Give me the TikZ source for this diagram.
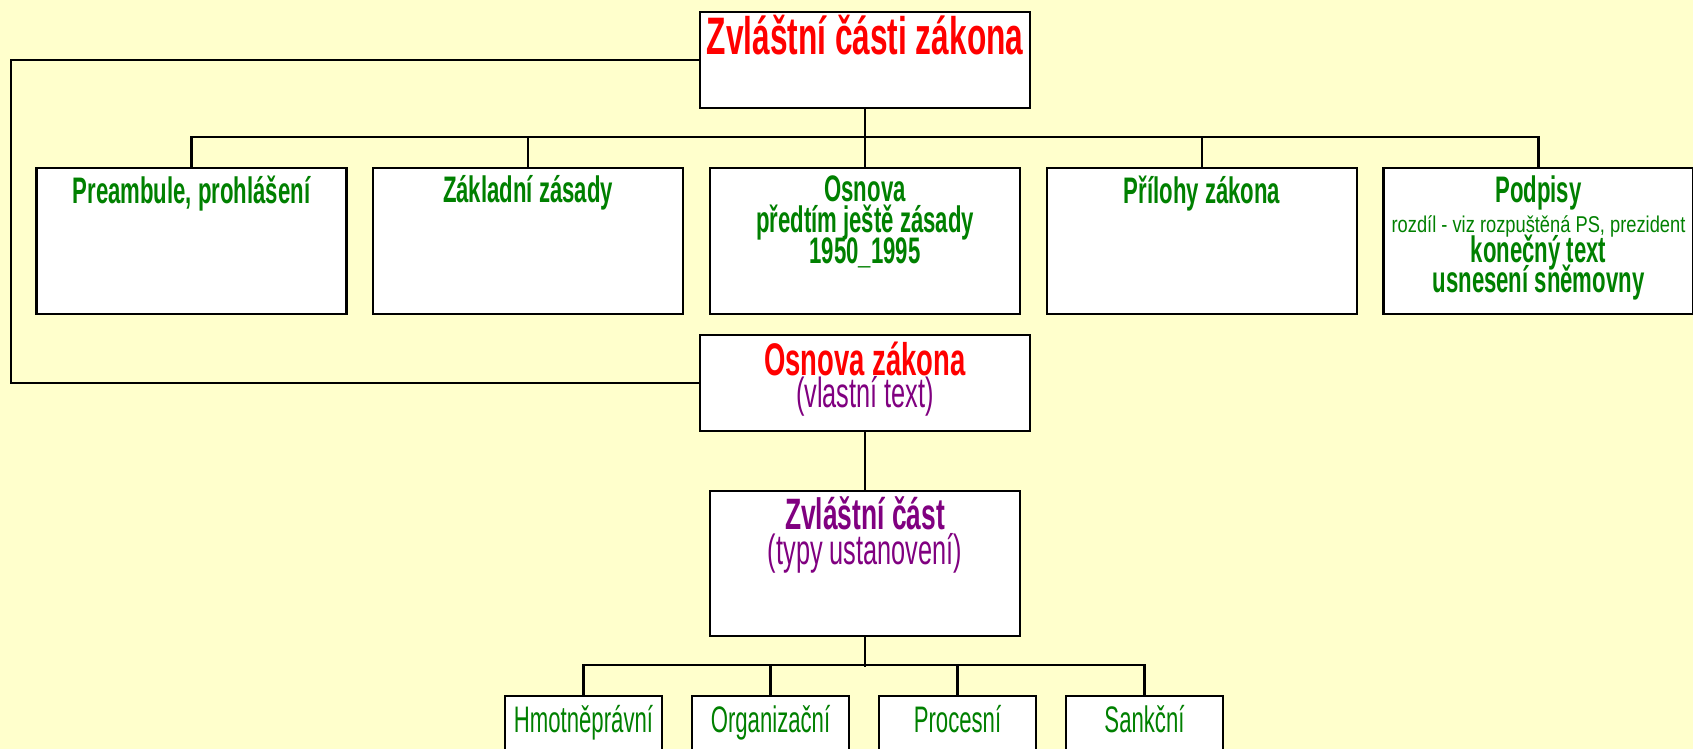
\documentclass[tikz,border=0pt]{standalone}
\usepackage{fontspec}
\setmainfont{Liberation Sans}
\newfontfamily\narrowfont[FakeStretch=0.6]{Liberation Sans}
\newfontfamily\halfnarrowfont[FakeStretch=0.8]{Liberation Sans}
\usepackage[HTML]{xcolor}
\usepackage{tikz}
\usetikzlibrary{positioning}

\definecolor{paper}{HTML}{FFFFCC}
\definecolor{headred}{HTML}{FF0000}
\definecolor{partgreen}{HTML}{008000}
\definecolor{notepurple}{HTML}{800080}

\tikzset{
  part/.style={draw, fill=white, line width=0.65pt, inner sep=0pt, minimum width=3.10cm, minimum height=1.46cm},
  head/.style={part, minimum width=3.30cm, minimum height=0.96cm},
  kind/.style={part, minimum width=1.57cm, minimum height=1.20cm},
  txt/.style={inner sep=0pt, align=center},
  parttxt/.style={txt, text=partgreen, font={\narrowfont\bfseries\fontsize{10.5}{8.8}\selectfont\lineskiplimit-20pt\relax}},
  kindtxt/.style={txt, text=partgreen, font=\narrowfont\fontsize{10.5}{12}\selectfont},
  link/.style={line width=0.6pt}
}

\begin{document}
\begin{tikzpicture}[x=0.01cm, y=-0.01cm]
\useasboundingbox (0,0) rectangle (1693,749);
\clip (0,0) rectangle (1693,749);
\fill[paper] (0,0) rectangle (1693,749);

% ramecky
\node[head] (zcz) at (865,60) {};
\node[part] (pre) at (191.5,241) {};
\node[part] (zas) at (528,241) {};
\node[part] (osv) at (865,241) {};
\node[part] (pri) at (1202,241) {};
\node[part] (pod) at (1538.5,241) {};
\node[head] (osz) at (865,383) {};
\node[part, minimum height=1.45cm] (zvc) at (865,563.5) {};
\node[kind] (hmo) at (583.5,756) {};
\node[kind] (org) at (770.5,756) {};
\node[kind] (pro) at (957.5,756) {};
\node[kind] (san) at (1144.5,756) {};
\coordinate (loop) at (11,60);

% texty
\node[txt, text=headred, font=\narrowfont\bfseries\fontsize{15}{16}\selectfont, below=1.1pt of zcz.north] (zczT) {Zvláštní části zákona};
\node[parttxt, below=2.3pt of pre.north] (preT) {Preambule, prohlášení};
\node[parttxt, below=2.3pt of zas.north] (zasT) {Základní zásady};
\node[parttxt, below=2.3pt of osv.north] (osvT) {Osnova\\předtím ještě zásady\\1950\_1995};
\node[parttxt, below=2.3pt of pri.north] (priT) {Přílohy zákona};
\node[parttxt, font={\narrowfont\bfseries\fontsize{10.5}{8.5}\selectfont\lineskiplimit-20pt\relax}, below=2.3pt of pod.north] (podT) {Podpisy\\{\halfnarrowfont\mdseries\fontsize{6.5}{7}\selectfont rozdíl - viz rozpuštěná PS, prezident}\\konečný text\\usnesení sněmovny};
\node[txt, text=headred, font={\narrowfont\bfseries\fontsize{13}{9.2}\selectfont\lineskiplimit-20pt\relax}, below=2.1pt of osz.north] (oszT) {Osnova zákona\\{\color{notepurple}\mdseries\fontsize{12}{12}\selectfont (vlastní text)}};
\node[txt, text=notepurple, font={\narrowfont\bfseries\fontsize{12.5}{10}\selectfont\lineskiplimit-20pt\relax}, below=1.8pt of zvc.north] (zvcT) {Zvláštní část\\{\mdseries\fontsize{12}{12}\selectfont (typy ustanovení)}};
\node[kindtxt, below=2.8pt of hmo.north] (hmoT) {Hmotněprávní};
\node[kindtxt, below=2.8pt of org.north] (orgT) {Organizační};
\node[kindtxt, below=2.8pt of pro.north] (proT) {Procesní};
\node[kindtxt, below=2.8pt of san.north] (sanT) {Sankční};

% spojnice
\draw[link] (zcz.west) -- (loop) |- (osz.west);
\draw[link] (pre.north) -- ++(0,-30) -| (pod.north);
\draw[link] (zcz.south) -- (osv.north);
\foreach \b in {zas,pri}
  \draw[link] (\b.north) -- ++(0,-30);
\draw[link] (osz.south) -- (zvc.north);
\draw[link] (hmo.north) -- ++(0,-30) -| (san.north);
\draw[link] (zvc.south) -- ++(0,30);
\foreach \b in {org,pro}
  \draw[link] (\b.north) -- ++(0,-30);
\end{tikzpicture}
\end{document}
